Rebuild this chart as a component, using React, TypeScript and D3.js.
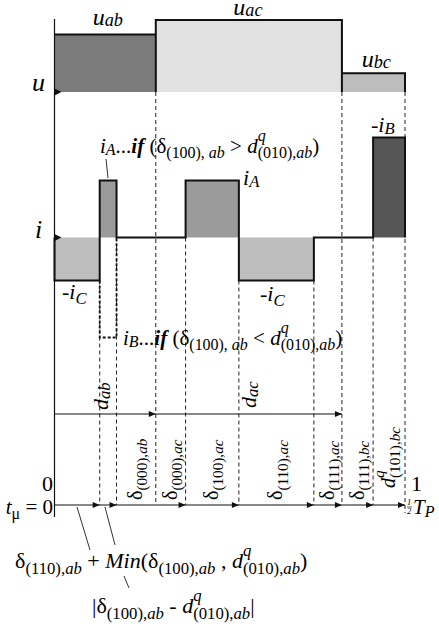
import React from "react";
import * as d3 from "d3";

// Switching instants within half a PWM period (fraction of ½T_P)
const edges = [0, 0.129, 0.177, 0.289, 0.374, 0.526, 0.74, 0.82, 0.909, 1];

// Line-to-line voltage applied in each interval
const voltageEdges = [0, 0.289, 0.82, 1];
const voltageValues = [0.8, 1.0, 0.26];
const voltageFills = ["#7b7b7b", "#e1e1e1", "#bdbdbd"];

// DC-link current in each interval (iA = 0.57, iB = -1.0, iC = 0.43)
const currentEdges = [0, 0.129, 0.177, 0.374, 0.526, 0.74, 0.909, 1];
const currentValues = [-0.43, 0.57, 0, 0.57, -0.43, 0, 1.0];
const currentFills = ["#bdbdbd", "#9b9b9b", "none", "#9b9b9b", "#bdbdbd", "none", "#565656"];
// Alternative current in the second interval when δ(100),ab < d(010),ab
const altCurrent = { start: 0.129, end: 0.177, value: -1.0 };

// Instants that end an arrow on the time axis
const timeArrows = [0.129, 0.177, 0.374, 0.526, 0.74, 0.82, 0.909, 1];
// Sector durations shown on the upper arrow line
const sectorEdges = [0, 0.289, 0.82];

type Part = { t: string; k?: "sub" | "sup"; i?: boolean; b?: boolean; dx?: number; lo?: number };

const P = (t: string, o: Partial<Part> = {}): Part => ({ t, ...o });
const dq = (sub: string, subI: string): Part[] => [
  P("d", { i: true }),
  P("q", { k: "sup", i: true }),
  P(sub, { k: "sub", dx: -0.38 }),
  P(subI, { k: "sub", i: true }),
];
const delta = (sub: string, subI: string): Part[] => [
  P("δ"),
  P(sub, { k: "sub" }),
  P(subI, { k: "sub", i: true }),
];
// variable with a lightly dropped letter subscript
const v = (name: string, sub: string, lo = 0.08): Part[] => [
  P(name, { i: true }),
  P(sub, { k: "sub", i: true, lo }),
];

// Interval labels (rotated) in time order
const intervalLabels: Part[][] = [
  delta("(000),", "ab"),
  delta("(000),", "ac"),
  delta("(100),", "ac"),
  delta("(110),", "ac"),
  delta("(111),", "ac"),
  delta("(111),", "bc"),
  dq("(101),", "bc"),
];
const intervalBounds = [0.177, 0.289, 0.374, 0.526, 0.74, 0.82, 0.909, 1];

const SUB = 0.76;

function Rich({
  x, y, size, parts, rotate = 0, anchor = "start",
}: { x: number; y: number; size: number; parts: Part[]; rotate?: number; anchor?: string }) {
  let cur = 0;
  return (
    <text
      x={x}
      y={y}
      fontSize={size}
      textAnchor={anchor}
      transform={rotate ? `rotate(${rotate},${x},${y})` : undefined}
      style={{ whiteSpace: "pre" }}
    >
      {parts.map((p, j) => {
        const small = p.k === "sub" || p.k === "sup";
        const off =
          p.k === "sub" ? size * (p.lo ?? 0.26) : p.k === "sup" ? -size * 0.55 : 0;
        const dy = off - cur;
        cur = off;
        return (
          <tspan
            key={j}
            dy={dy}
            dx={p.dx ? p.dx * size : undefined}
            fontSize={small ? size * SUB : size}
            fontStyle={p.i ? "italic" : "normal"}
            fontWeight={p.b ? "bold" : "normal"}
          >
            {p.t}
          </tspan>
        );
      })}
    </text>
  );
}

const arrowR = (x: number, y: number, l = 7, h = 3) =>
  `M${x},${y}L${x - l},${y - h}L${x - l},${y + h}Z`;

export default function App() {
  const W = 439, H = 632;
  const x = d3.scaleLinear().domain([0, 1]).range([54.5, 405]);
  const yU = d3.scaleLinear().domain([0, 1]).range([92, 20]);
  const yI = d3.scaleLinear().domain([-1, 1]).range([337.5, 137.5]);
  const axisY = 505;
  const sectorY = 414;

  // voltage outline
  const uOutline = voltageValues
    .map((val, j) => {
      const x0 = x(voltageEdges[j]), x1 = x(voltageEdges[j + 1]);
      return j === 0
        ? `M${x0},${yU(val)}H${x1}V${yU(0)}`
        : `M${x0},${yU(0)}V${yU(val)}H${x1}V${yU(0)}`;
    })
    .join("");

  // current step outline
  let iPath = `M${x(0)},${yI(0)}`;
  currentValues.forEach((val, j) => {
    iPath += `V${yI(val)}H${x(currentEdges[j + 1])}`;
  });
  iPath += `V${yI(0)}`;

  // guide start heights
  const guideTop = (t: number) => {
    if (voltageEdges.includes(t) && t > 0) return yU(0);
    const j = currentEdges.indexOf(t);
    const a = currentValues[j - 1], b = currentValues[j];
    return Math.max(yI(a), yI(b));
  };

  const altPath = `M${x(altCurrent.start)},${yI(currentValues[0])}V${yI(altCurrent.value)}H${x(altCurrent.end)}V${yI(0)}`;

  const font = "'Liberation Serif', 'Times New Roman', serif";

  return (
    <svg
      width={W}
      height={H}
      style={{ position: "absolute", left: 0, top: 0, background: "#fff" }}
      fontFamily={font}
    >
      {/* voltage fills */}
      {voltageValues.map((val, j) => (
        <rect
          key={j}
          x={x(voltageEdges[j])}
          y={yU(val)}
          width={x(voltageEdges[j + 1]) - x(voltageEdges[j])}
          height={yU(0) - yU(val)}
          fill={voltageFills[j]}
        />
      ))}
      {/* current fills */}
      {currentValues.map((val, j) =>
        val === 0 ? null : (
          <rect
            key={j}
            x={x(currentEdges[j])}
            y={Math.min(yI(val), yI(0))}
            width={x(currentEdges[j + 1]) - x(currentEdges[j])}
            height={Math.abs(yI(val) - yI(0))}
            fill={currentFills[j]}
          />
        )
      )}

      {/* dashed guides */}
      {edges.slice(1).map((t, j) => (
        <line
          key={j}
          x1={x(t)}
          x2={x(t)}
          y1={guideTop(t)}
          y2={t === 1 ? axisY + 8 : axisY}
          stroke="#222"
          strokeWidth={1}
          strokeDasharray="4,3"
        />
      ))}

      {/* vertical axis */}
      <line x1={x(0)} x2={x(0)} y1={19} y2={axisY + 12} stroke="#111" strokeWidth={1.2} />
      <path d={arrowR(x(0) + 7, yU(0), 7, 3.5)} fill="#111" />
      <path d={arrowR(x(0) + 7, yI(0), 7, 3.5)} fill="#111" />

      {/* outlines */}
      <path d={uOutline} fill="none" stroke="#111" strokeWidth={2} />
      <path d={iPath} fill="none" stroke="#111" strokeWidth={2} />
      <path d={altPath} fill="none" stroke="#111" strokeWidth={1.8} strokeDasharray="3,2" />

      {/* sector arrow line */}
      <line x1={x(0)} x2={x(sectorEdges[2])} y1={sectorY} y2={sectorY} stroke="#111" strokeWidth={1.2} />
      {sectorEdges.slice(1).map((t, j) => (
        <path key={j} d={arrowR(x(t), sectorY)} fill="#111" />
      ))}

      {/* time axis */}
      <line x1={x(0)} x2={x(1)} y1={axisY} y2={axisY} stroke="#111" strokeWidth={1.2} />
      {timeArrows.map((t, j) => (
        <path key={j} d={arrowR(x(t), axisY)} fill="#111" />
      ))}

      {/* axis names */}
      <text x={32} y={91} fontSize={26} fontStyle="italic">u</text>
      <text x={35} y={238} fontSize={26} fontStyle="italic">i</text>

      {/* voltage labels */}
      <Rich x={x(0.152)} y={25} size={24} anchor="middle" parts={v("u", "ab", 0.06)} />
      <Rich x={x(0.552)} y={15} size={24} anchor="middle" parts={v("u", "ac", 0.06)} />
      <Rich x={x(0.918)} y={67} size={24} anchor="middle" parts={v("u", "bc", 0.06)} />

      {/* current labels */}
      <Rich
        x={100}
        y={153}
        size={21}
        parts={[
          ...v("i", "A"), P("..."), P("if", { i: true, b: true }),
          P(" (δ"), P("(100), ", { k: "sub" }), P("ab", { k: "sub", i: true }), P(" > "),
          ...dq("(010),", "ab"), P(")"),
        ]}
      />
      <line x1={106} y1={159} x2={108} y2={178} stroke="#333" strokeWidth={1} />
      <Rich x={243} y={185} size={22} parts={v("i", "A")} />
      <Rich x={371} y={132} size={22} parts={[P("-"), ...v("i", "B")]} />
      <Rich x={62} y={299} size={22} parts={[P("-"), ...v("i", "C", 0.24)]} />
      <Rich x={260} y={301} size={22} parts={[P("-"), ...v("i", "C", 0.24)]} />
      <Rich
        x={123}
        y={345}
        size={21}
        parts={[
          ...v("i", "B"), P("..."), P("if", { i: true, b: true }),
          P(" (δ"), P("(100), ", { k: "sub" }), P("ab", { k: "sub", i: true }), P(" < "),
          ...dq("(010),", "ab"), P(")"),
        ]}
      />

      {/* sector duration labels */}
      <Rich x={108} y={410} size={22} rotate={-90} parts={v("d", "ab", 0.1)} />
      <Rich x={256} y={408} size={22} rotate={-90} parts={v("d", "ac", 0.1)} />

      {/* interval labels */}
      {intervalLabels.map((parts, j) => {
        const mid = (intervalBounds[j] + intervalBounds[j + 1]) / 2;
        const last = j === intervalLabels.length - 1;
        return (
          <Rich key={j} x={x(mid) + 6} y={last ? 488 : 500} size={20} rotate={-90} parts={parts} />
        );
      })}

      {/* time axis labels */}
      <text x={42} y={491} fontSize={22}>0</text>
      <text x={411} y={491} fontSize={22}>1</text>
      <Rich x={53} y={514} size={21} anchor="end" parts={[P("t", { i: true }), P("μ", { k: "sub" }), P(" = 0")]} />
      <text x={407} y={505} fontSize={8.5} fontStyle="italic">1</text>
      <line x1={407} x2={412} y1={507} y2={507} stroke="#111" strokeWidth={0.7} />
      <text x={407} y={514} fontSize={8.5} fontStyle="italic">2</text>
      <Rich x={413} y={514} size={21} parts={[P("T", { i: true }), P("P", { k: "sub", i: true, lo: 0.12 })]} />

      {/* interval formulas */}
      <line x1={77} y1={507} x2={90} y2={550} stroke="#333" strokeWidth={1} />
      <line x1={105} y1={507} x2={115} y2={545} stroke="#333" strokeWidth={1} />
      <line x1={124} y1={576} x2={129} y2={588} stroke="#333" strokeWidth={1} />
      <Rich
        x={15}
        y={568}
        size={22}
        parts={[
          ...delta("(110),", "ab"), P(" + "), P("Min", { i: true }), P("("),
          ...delta("(100),", "ab"), P(" , "), ...dq("(010),", "ab"), P(")"),
        ]}
      />
      <Rich
        x={92}
        y={613}
        size={22}
        parts={[P("|"), ...delta("(100),", "ab"), P(" - "), ...dq("(010),", "ab"), P("|")]}
      />
    </svg>
  );
}
